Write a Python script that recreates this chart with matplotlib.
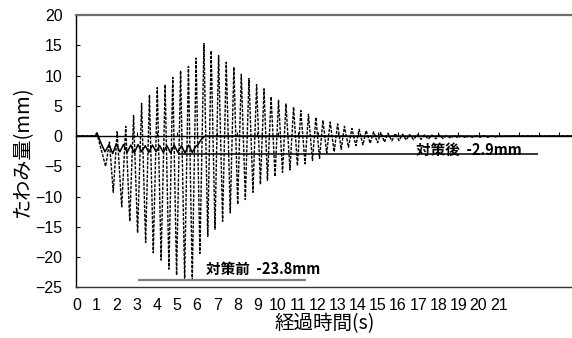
import matplotlib
matplotlib.use("Agg")
import matplotlib.pyplot as plt

# Deflection record (turning points of the response), before countermeasure [s, mm]
t_before = [0.0, 1.05, 1.45, 1.64, 1.83, 2.02, 2.25, 2.45, 2.65, 2.84, 3.04, 3.24, 3.44, 3.63,
            3.82, 4.02, 4.21, 4.41, 4.60, 4.79, 4.98, 5.18, 5.38, 5.57, 5.76, 5.95, 6.14, 6.34,
            6.53, 6.70, 6.89, 7.07, 7.27, 7.45, 7.65, 7.83, 8.02, 8.20, 8.40, 8.58, 8.78, 8.96,
            9.15, 9.33, 9.50, 9.68, 9.88, 10.05, 10.25, 10.42, 10.62, 10.80, 10.99, 11.16, 11.37,
            11.54, 11.74, 11.91, 12.09, 12.26, 12.45, 12.62, 12.82, 12.99, 13.17, 13.33, 13.53,
            13.70, 13.90, 14.06, 14.25, 14.41, 14.61, 14.78, 14.98, 15.14, 15.32, 15.49, 15.69,
            15.86, 16.05, 16.22, 16.40, 16.57, 16.77, 16.95, 17.14, 17.31, 17.50, 17.68, 17.87,
            18.05, 18.24, 18.42, 18.61, 18.79, 18.98, 19.16, 19.35, 19.53, 19.72, 19.90, 20.09,
            20.27, 20.46, 20.64, 20.83, 21.01, 21.20, 21.40, 24.65]
d_before = [0.0, 0.0, -5.0, -1.0, -9.3, 0.7, -11.7, 1.6, -14.1, 3.4, -16.0, 5.4, -17.6, 6.8,
            -19.3, 8.0, -20.5, 8.5, -22.0, 9.7, -23.0, 10.8, -23.5, 11.5, -23.8, 12.9, -19.4, 15.3,
            -16.6, 14.1, -15.4, 13.3, -14.1, 12.2, -12.7, 11.4, -11.3, 10.2, -10.5, 9.5, -9.3, 8.5,
            -8.0, 7.8, -7.3, 6.5, -6.7, 5.9, -6.0, 5.3, -5.6, 4.8, -4.9, 4.2, -4.6,
            3.6, -4.05, 3.1, -3.7, 2.6, -2.85, 2.3, -2.6, 2.0, -2.2, 1.6, -1.85,
            1.25, -1.6, 1.1, -1.45, 0.9, -1.2, 0.7, -1.1, 0.6, -1.0, 0.45, -0.8,
            0.4, -0.75, 0.3, -0.65, 0.25, -0.6, 0.2, -0.55, 0.2, -0.5, 0.15, -0.45,
            0.15, -0.4, 0.1, -0.35, 0.1, -0.3, 0.1, -0.3, 0.05, -0.25, 0.05, -0.2,
            0.05, -0.2, 0.0, -0.15, 0.0, -0.1, 0.0, 0.0]

# Deflection record after countermeasure [s, mm]
t_after = [0.0, 0.95, 1.00, 1.08, 1.25, 1.42, 1.62, 1.80, 1.98, 2.16, 2.34, 2.52, 2.70, 2.88,
           3.06, 3.24, 3.42, 3.60, 3.78, 3.96, 4.14, 4.32, 4.50, 4.68, 4.86, 5.04, 5.22, 5.40,
           5.58, 5.76, 5.94, 6.05, 6.20, 6.35, 6.50, 24.65]
d_after = [0.0, 0.0, 0.5, 0.0, -1.4, -2.6, -1.4, -2.9, -1.3, -2.6, -1.4, -2.7, -1.5, -2.8,
           -1.4, -2.6, -1.6, -2.7, -1.5, -2.6, -1.6, -2.7, -1.6, -2.8, -1.5, -2.7, -1.6, -2.8,
           -1.5, -2.7, -1.7, -1.4, -0.6, -0.1, 0.0, 0.0]

# Peak annotations: label, value [mm], line extent [s], text anchor [s, mm]
peak_labels = ["対策前  -23.8mm", "対策後  -2.9mm"]
peak_values = [-23.8, -2.9]
peak_spans = [(3.04, 11.40), (5.05, 22.96)]
peak_text_pos = [(6.45, -22.0), (16.90, -2.3)]
peak_colors = ["#7f7f7f", "black"]
peak_widths = [1.6, 1.1]

y_ticks = [20, 15, 10, 5, 0, -5, -10, -15, -20, -25]
x_ticks = list(range(0, 25))
x_tick_labels = [str(i) if i <= 21 else "" for i in x_ticks]

num_font = "Liberation Sans"
jp_font = ["Noto Sans CJK JP", "DejaVu Sans"]

fig = plt.figure(figsize=(5.72, 3.38), dpi=100)
ax = fig.add_axes([0.1337, 0.150, 0.8663, 0.8056])

ax.plot(t_before, d_before, color="black", lw=1.0, linestyle=(0, (2.2, 1.0)))
ax.plot(t_after, d_after, color="black", lw=1.1)

for lab, val, (x0, x1), (tx, ty), col, lw in zip(peak_labels, peak_values, peak_spans,
                                                   peak_text_pos, peak_colors, peak_widths):
    ax.hlines(val, x0, x1, color=col, lw=lw)
    ax.text(tx, ty, lab, fontsize=10.5, fontweight="bold", family=jp_font,
            ha="left", va="center")

ax.set_xlim(0, 24.65)
ax.set_ylim(-25, 20)

ax.set_yticks(y_ticks)
ax.tick_params(axis="y", direction="in", length=3, width=0.8, pad=10, labelsize=11.5)
for lbl in ax.get_yticklabels():
    lbl.set_family(num_font)

ax.set_xticks(x_ticks)
ax.set_xticklabels(x_tick_labels, family=num_font, fontsize=11.5)
ax.tick_params(axis="x", length=0, pad=8)

# horizontal axis line at zero with upward ticks
zero_axis = ax.secondary_xaxis(25 / 45)
zero_axis.set_xticks(x_ticks)
zero_axis.tick_params(axis="x", direction="out", length=3, width=0.8,
                      labeltop=False, labelbottom=False)
for sp in zero_axis.spines.values():
    sp.set_linewidth(1.0)
    sp.set_color("black")

ax.spines["right"].set_visible(False)
ax.spines["top"].set_color("#6e6e6e")
ax.spines["top"].set_linewidth(1.6)
ax.spines["left"].set_linewidth(1.0)
ax.spines["bottom"].set_linewidth(1.0)
ax.spines["bottom"].set_color("#333333")

ax.set_xlabel("経過時間(s)", family=jp_font, fontsize=14, labelpad=0)
ax.set_ylabel("たわみ量(mm)", family=jp_font, fontsize=14.5, labelpad=2)

fig.savefig("out.png", dpi=100)
